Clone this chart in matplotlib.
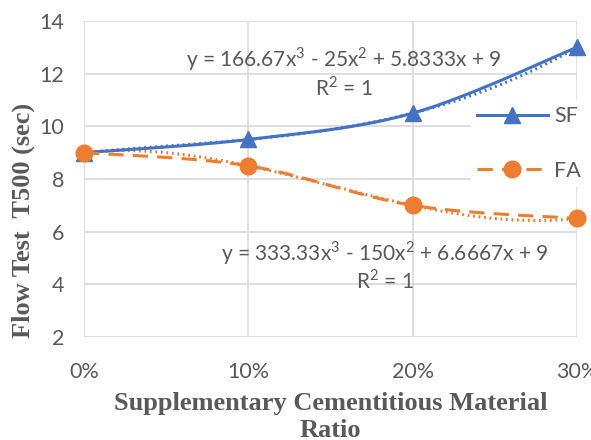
import numpy as np
import matplotlib
matplotlib.use('Agg')
import matplotlib.pyplot as plt
from matplotlib.lines import Line2D

# replacement ratios and T500 flow times
ratio = [0.0, 0.1, 0.2, 0.3]
sf = [9, 9.5, 10.5, 13]
fa = [9, 8.5, 7, 6.5]

sf_eq = 'y = 166.67x$^3$ - 25x$^2$ + 5.8333x + 9\nR$^2$ = 1'
fa_eq = 'y = 333.33x$^3$ - 150x$^2$ + 6.6667x + 9\nR$^2$ = 1'

blue = '#4472C4'
orange = '#ED7D31'
grey = '#595959'


def smooth(x, y, n=40):
    # bezier smoothing like the spreadsheet "smoothed line" option
    x = np.asarray(x, float)
    y = np.asarray(y, float)
    px = np.concatenate([[x[0]], x, [x[-1]]])
    py = np.concatenate([[y[0]], y, [y[-1]]])
    xs, ys = [], []
    t = np.linspace(0, 1, n)
    for i in range(1, len(x)):
        p0 = np.array([px[i], py[i]])
        p3 = np.array([px[i + 1], py[i + 1]])
        c1 = p0 + (np.array([px[i + 1], py[i + 1]]) - np.array([px[i - 1], py[i - 1]])) / 6
        c2 = p3 - (np.array([px[i + 2], py[i + 2]]) - np.array([px[i], py[i]])) / 6
        b = ((1 - t) ** 3)[:, None] * p0 + (3 * (1 - t) ** 2 * t)[:, None] * c1 \
            + (3 * (1 - t) * t ** 2)[:, None] * c2 + (t ** 3)[:, None] * p3
        xs.extend(b[:, 0])
        ys.extend(b[:, 1])
    return np.array(xs), np.array(ys)


plt.rcParams['font.family'] = ['Lato', 'DejaVu Sans']
plt.rcParams['mathtext.fontset'] = 'custom'
plt.rcParams['mathtext.rm'] = 'Lato'

fig = plt.figure(figsize=(5.91, 4.40), dpi=100)
ax = fig.add_axes([0.1421, 0.2341, 0.8342, 0.7182])

xx = np.linspace(0, 0.3, 200)
sf_fit = np.polyfit(ratio, sf, 3)
fa_fit = np.polyfit(ratio, fa, 3)

# cubic trendlines
ax.plot(xx, np.polyval(sf_fit, xx), color=blue, lw=2.2, ls=(0, (0.6, 1.2)), zorder=3)
ax.plot(xx, np.polyval(fa_fit, xx), color=orange, lw=2.2, ls=(0, (0.6, 1.2)), zorder=3)

sx, sy = smooth(ratio, sf)
ax.plot(sx, sy, color=blue, lw=2.2, zorder=4)
fx, fy = smooth(ratio, fa)
ax.plot(fx, fy, color=orange, lw=2.2, ls=(0, (5, 3)), zorder=4)

ax.plot(ratio, sf, ls='none', marker='^', color=blue, ms=12, clip_on=False, zorder=5)
ax.plot(ratio, fa, ls='none', marker='o', color=orange, ms=12, clip_on=False, zorder=5)

ax.set_xlim(0, 0.3)
ax.set_ylim(2, 14)
ax.set_xticks(ratio)
ax.set_xticklabels(['0%', '10%', '20%', '30%'])
ax.set_yticks([2, 4, 6, 8, 10, 12, 14])
ax.grid(True, color='#D9D9D9', lw=1.2)
ax.set_axisbelow(True)
for s in ax.spines.values():
    s.set_visible(False)
ax.tick_params(length=0, labelsize=15.5, colors=grey)
ax.tick_params(axis='x', pad=18)
ax.tick_params(axis='y', pad=14)

ax.text(0.158, 12.06, sf_eq, ha='center', va='center', fontsize=15, color=grey,
        linespacing=1.12, multialignment='center', zorder=6)
ax.text(0.183, 4.70, fa_eq, ha='center', va='center', fontsize=15, color=grey,
        linespacing=1.12, multialignment='center', zorder=6)

ax.set_xlabel('Supplementary Cementitious Material\nRatio', family='Liberation Serif',
              fontsize=19, fontweight='bold', color=grey, labelpad=7, linespacing=1.22)
ax.set_ylabel('Flow Test  T500 (sec)', family='Liberation Serif',
              fontsize=19, fontweight='bold', color=grey)
ax.yaxis.set_label_coords(-0.1, 0.37)

handles = [Line2D([], [], color=blue, lw=2.2, marker='^', ms=12),
           Line2D([], [], color=orange, lw=2.2, ls=(0, (5, 3)), marker='o', ms=12)]
leg = ax.legend(handles, ['SF', 'FA'], loc='upper left', bbox_to_anchor=(0.784, 0.75),
                frameon=True, framealpha=1, edgecolor='none', fancybox=False,
                fontsize=15.5, labelcolor=grey, handlelength=3.3, labelspacing=1.6,
                borderpad=0.3, handletextpad=0.3, borderaxespad=0)
leg.set_zorder(7)

fig.savefig('out.png', dpi=100)
